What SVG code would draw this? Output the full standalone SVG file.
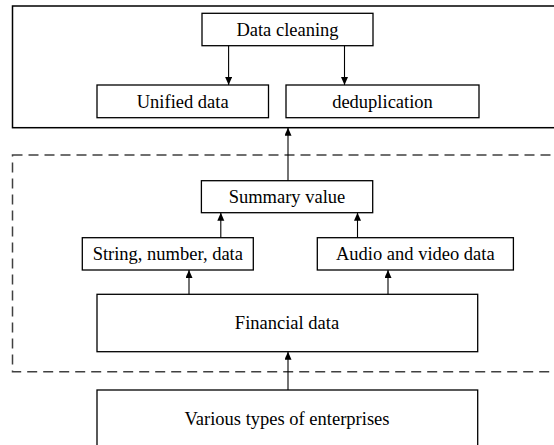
<svg xmlns="http://www.w3.org/2000/svg" width="554" height="445" viewBox="0 0 554 445">
  <style>
    .box { fill: #ffffff; stroke: #000000; stroke-width: 1.3; }
    .frame { fill: none; stroke: #000000; stroke-width: 1.5; }
    .dash { fill: none; stroke: #404040; stroke-width: 1.5; stroke-dasharray: 10 6; }
    .label { font-family: "Liberation Serif", "Times New Roman", serif; font-size: 18.5px; fill: #000000; text-anchor: middle; }
    .link { stroke: #000000; stroke-width: 1.1; fill: none; marker-end: url(#arrow); }
  </style>
  <defs>
    <marker id="arrow" markerWidth="8" markerHeight="8" refX="8" refY="3.5" orient="auto" markerUnits="userSpaceOnUse">
      <path d="M0,0 L8,3.5 L0,7 Z" fill="#000000"/>
    </marker>
  </defs>

  <!-- outer containers -->
  <rect id="cleaning-stage" class="frame" x="12.5" y="6" width="560" height="121.7"/>
  <rect id="collection-stage" class="dash" x="12.5" y="155" width="560" height="216.7"/>

  <g id="data-cleaning">
    <rect class="box" x="202" y="13.3" width="171" height="32.4"/>
    <text class="label" x="287.5" y="35.8">Data cleaning</text>
  </g>
  <g id="unified-data">
    <rect class="box" x="97" y="85" width="171.5" height="32.7"/>
    <text class="label" x="182.7" y="107.6">Unified data</text>
  </g>
  <g id="deduplication">
    <rect class="box" x="286" y="85" width="193" height="32.7"/>
    <text class="label" x="382.5" y="107.6">deduplication</text>
  </g>
  <g id="summary-value">
    <rect class="box" x="201.4" y="180.7" width="171.3" height="32"/>
    <text class="label" x="287" y="203">Summary value</text>
  </g>
  <g id="string-number-data">
    <rect class="box" x="82.3" y="237.7" width="171" height="32.3"/>
    <text class="label" x="167.8" y="260.2">String, number, data</text>
  </g>
  <g id="audio-video-data">
    <rect class="box" x="317.3" y="237.7" width="196.1" height="32.3"/>
    <text class="label" x="415.3" y="260.2">Audio and video data</text>
  </g>
  <g id="financial-data">
    <rect class="box" x="97" y="294.3" width="380.7" height="57.4"/>
    <text class="label" x="287" y="329.3">Financial data</text>
  </g>
  <g id="enterprises">
    <rect class="box" x="97" y="390" width="380.7" height="70"/>
    <text class="label" x="287" y="425">Various types of enterprises</text>
  </g>

  <g id="connectors">
    <line class="link" x1="228.6" y1="45.7" x2="228.6" y2="85"/>
    <line class="link" x1="344.5" y1="45.7" x2="344.5" y2="85"/>
    <line class="link" x1="288" y1="180.7" x2="288" y2="127.7"/>
    <line class="link" x1="220.8" y1="237.7" x2="220.8" y2="212.7"/>
    <line class="link" x1="357.5" y1="237.7" x2="357.5" y2="212.7"/>
    <line class="link" x1="189" y1="294.3" x2="189" y2="270"/>
    <line class="link" x1="388" y1="294.3" x2="388" y2="270"/>
    <line class="link" x1="288" y1="390" x2="288" y2="351.7"/>
  </g>
</svg>
